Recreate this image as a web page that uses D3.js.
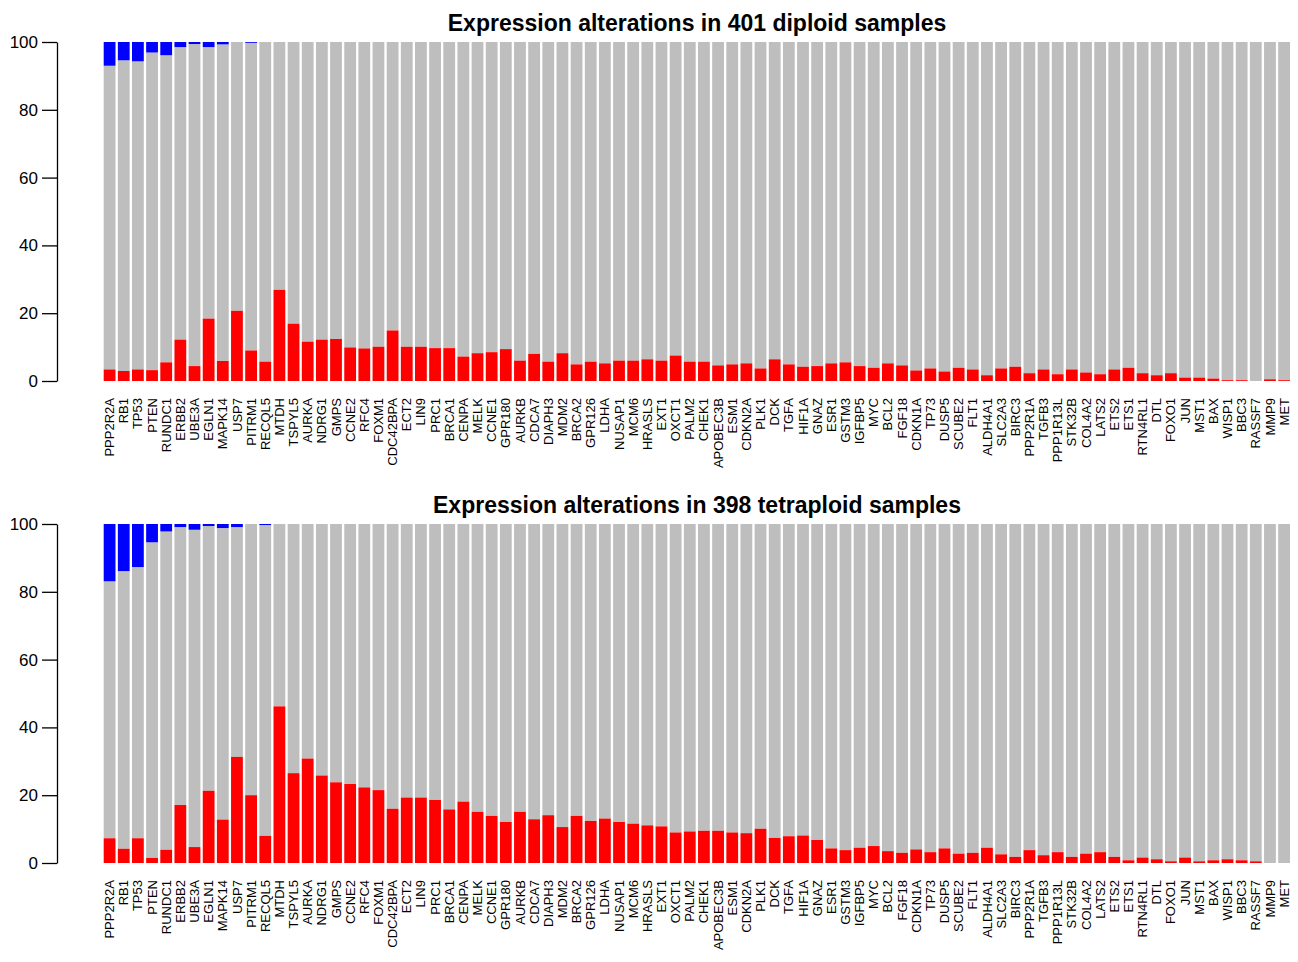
<!DOCTYPE html>
<html>
<head>
<meta charset="utf-8">
<script src="https://cdn.jsdelivr.net/npm/d3@7"></script>
<style>
  body { margin: 0; background: #fff; }
  svg { display: block; font-family: "Liberation Sans", Arial, Helvetica, sans-serif; }
</style>
</head>
<body>
<div id="chart"></div>
<script>
// gene order is the same in both panels
var genes = ["PPP2R2A", "RB1", "TP53", "PTEN", "RUNDC1", "ERBB2", "UBE3A", "EGLN1", "MAPK14", "USP7",
  "PITRM1", "RECQL5", "MTDH", "TSPYL5", "AURKA", "NDRG1", "GMPS", "CCNE2", "RFC4", "FOXM1",
  "CDC42BPA", "ECT2", "LIN9", "PRC1", "BRCA1", "CENPA", "MELK", "CCNE1", "GPR180", "AURKB",
  "CDCA7", "DIAPH3", "MDM2", "BRCA2", "GPR126", "LDHA", "NUSAP1", "MCM6", "HRASLS", "EXT1",
  "OXCT1", "PALM2", "CHEK1", "APOBEC3B", "ESM1", "CDKN2A", "PLK1", "DCK", "TGFA", "HIF1A",
  "GNAZ", "ESR1", "GSTM3", "IGFBP5", "MYC", "BCL2", "FGF18", "CDKN1A", "TP73", "DUSP5",
  "SCUBE2", "FLT1", "ALDH4A1", "SLC2A3", "BIRC3", "PPP2R1A", "TGFB3", "PPP1R13L", "STK32B", "COL4A2",
  "LATS2", "ETS2", "ETS1", "RTN4RL1", "DTL", "FOXO1", "JUN", "MST1", "BAX", "WISP1",
  "BBC3", "RASSF7", "MMP9", "MET"];

// percent of samples, diploid (401)
var diploidUp = [3.4, 2.95, 3.4, 3.2, 5.5, 12.2, 4.4, 18.4, 5.9, 20.7,
  9.0, 5.7, 26.9, 16.9, 11.6, 12.2, 12.4, 9.9, 9.6, 10.1,
  14.9, 10.1, 10.1, 9.7, 9.7, 7.2, 8.2, 8.5, 9.4, 6.0,
  8.0, 5.7, 8.2, 4.9, 5.7, 5.2, 6.0, 6.0, 6.4, 6.0,
  7.5, 5.7, 5.7, 4.6, 4.9, 5.2, 3.7, 6.4, 4.9, 4.2,
  4.4, 5.2, 5.5, 4.4, 3.9, 5.2, 4.6, 3.1, 3.7, 2.8,
  3.9, 3.4, 1.7, 3.7, 4.2, 2.3, 3.4, 2.0, 3.4, 2.5,
  2.0, 3.4, 3.9, 2.3, 1.7, 2.3, 1.0, 1.0, 0.7, 0.25,
  0.25, 0, 0.5, 0.25];
var diploidDown = [7.0, 5.4, 5.7, 3.1, 3.9, 1.5, 0.6, 1.5, 0.7, 0,
  0.25, 0, 0, 0, 0, 0, 0, 0, 0, 0,
  0, 0, 0, 0, 0, 0, 0, 0, 0, 0,
  0, 0, 0, 0, 0, 0, 0, 0, 0, 0,
  0, 0, 0, 0, 0, 0, 0, 0, 0, 0,
  0, 0, 0, 0, 0, 0, 0, 0, 0, 0,
  0, 0, 0, 0, 0, 0, 0, 0, 0, 0,
  0, 0, 0, 0, 0, 0, 0, 0, 0, 0,
  0, 0, 0, 0];

// percent of samples, tetraploid (398)
var tetraploidUp = [7.3, 4.2, 7.3, 1.5, 3.9, 17.1, 4.7, 21.3, 12.8, 31.3,
  20.0, 8.0, 46.2, 26.5, 30.8, 25.8, 23.8, 23.3, 22.3, 21.5,
  16.0, 19.3, 19.3, 18.6, 15.8, 18.1, 15.1, 13.9, 12.1, 15.1,
  12.9, 14.1, 10.6, 13.9, 12.4, 13.1, 12.1, 11.6, 11.1, 10.8,
  9.0, 9.3, 9.5, 9.5, 9.0, 8.8, 10.1, 7.4, 7.9, 8.1,
  6.8, 4.3, 3.8, 4.5, 5.0, 3.5, 3.0, 4.0, 3.2, 4.3,
  2.75, 3.0, 4.5, 2.55, 1.8, 3.8, 2.3, 3.2, 1.8, 2.75,
  3.2, 1.8, 0.8, 1.6, 1.1, 0.5, 1.6, 0.5, 0.8, 1.1,
  0.8, 0.5, 0, 0];
var tetraploidDown = [16.9, 13.9, 12.7, 5.4, 2.2, 0.9, 1.7, 0.6, 1.2, 0.9,
  0, 0.3, 0, 0, 0, 0, 0, 0, 0, 0,
  0, 0, 0, 0, 0, 0, 0, 0, 0, 0,
  0, 0, 0, 0, 0, 0, 0, 0, 0, 0,
  0, 0, 0, 0, 0, 0, 0, 0, 0, 0,
  0, 0, 0, 0, 0, 0, 0, 0, 0, 0,
  0, 0, 0, 0, 0, 0, 0, 0, 0, 0,
  0, 0, 0, 0, 0, 0, 0, 0, 0, 0,
  0, 0, 0, 0];

var yTicks = [0, 20, 40, 60, 80, 100];
var titles = ["Expression alterations in 401 diploid samples",
  "Expression alterations in 398 tetraploid samples"];

var width = 1298, height = 962;

var svg = d3.select("#chart").append("svg")
    .attr("width", width)
    .attr("height", height);

var x = d3.scaleBand()
    .domain(genes)
    .range([103.7, 1290])
    .paddingInner(0.2 / 1.2)
    .paddingOuter(0);

function drawPanel(top, title, up, down) {
    // top = y position of the 100 line, panel is 339px tall
    var y = d3.scaleLinear().domain([0, 100]).range([top + 339, top]);
    var g = svg.append("g");

    var rows = genes.map(function(d, i) {
        return { gene: d, up: up[i], down: down[i] };
    });

    // grey background = unchanged
    g.selectAll(".bar-none").data(rows).enter().append("rect")
        .attr("x", function(d) { return x(d.gene); })
        .attr("width", x.bandwidth())
        .attr("y", function(d) { return y(100 - d.down); })
        .attr("height", function(d) { return y(d.up) - y(100 - d.down); })
        .attr("fill", "#bebebe");

    g.selectAll(".bar-up").data(rows).enter().append("rect")
        .attr("x", function(d) { return x(d.gene); })
        .attr("width", x.bandwidth())
        .attr("y", function(d) { return y(d.up); })
        .attr("height", function(d) { return y(0) - y(d.up); })
        .attr("fill", "#ff0000");

    g.selectAll(".bar-down").data(rows).enter().append("rect")
        .attr("x", function(d) { return x(d.gene); })
        .attr("width", x.bandwidth())
        .attr("y", function(d) { return y(100); })
        .attr("height", function(d) { return y(100 - d.down) - y(100); })
        .attr("fill", "#0000ff");

    // y axis
    var yAxis = d3.axisLeft(y).tickValues(yTicks).tickSize(15).tickSizeOuter(0).tickPadding(4);
    var ya = g.append("g")
        .attr("transform", "translate(57,0)")
        .call(yAxis);
    ya.selectAll("path, line").attr("stroke", "#000").attr("stroke-width", 1.3);
    ya.selectAll("text").style("font-size", "17px").attr("fill", "#000");

    // gene names
    var xAxis = d3.axisBottom(x).tickSize(0).tickPadding(0);
    var xa = g.append("g")
        .attr("transform", "translate(0," + (top + 339) + ")")
        .call(xAxis);
    xa.select(".domain").remove();
    xa.selectAll("text")
        .style("font-size", "13px")
        .style("text-anchor", "end")
        .attr("fill", "#000")
        .attr("transform", "rotate(-90)")
        .attr("x", -17)
        .attr("y", 0)
        .attr("dy", "0.35em");

    svg.append("text")
        .attr("x", 697)
        .attr("y", top - 11.5)
        .attr("text-anchor", "middle")
        .style("font-size", "23px")
        .style("font-weight", "bold")
        .text(title);
}

drawPanel(42, titles[0], diploidUp, diploidDown);
drawPanel(524, titles[1], tetraploidUp, tetraploidDown);
</script>
</body>
</html>
